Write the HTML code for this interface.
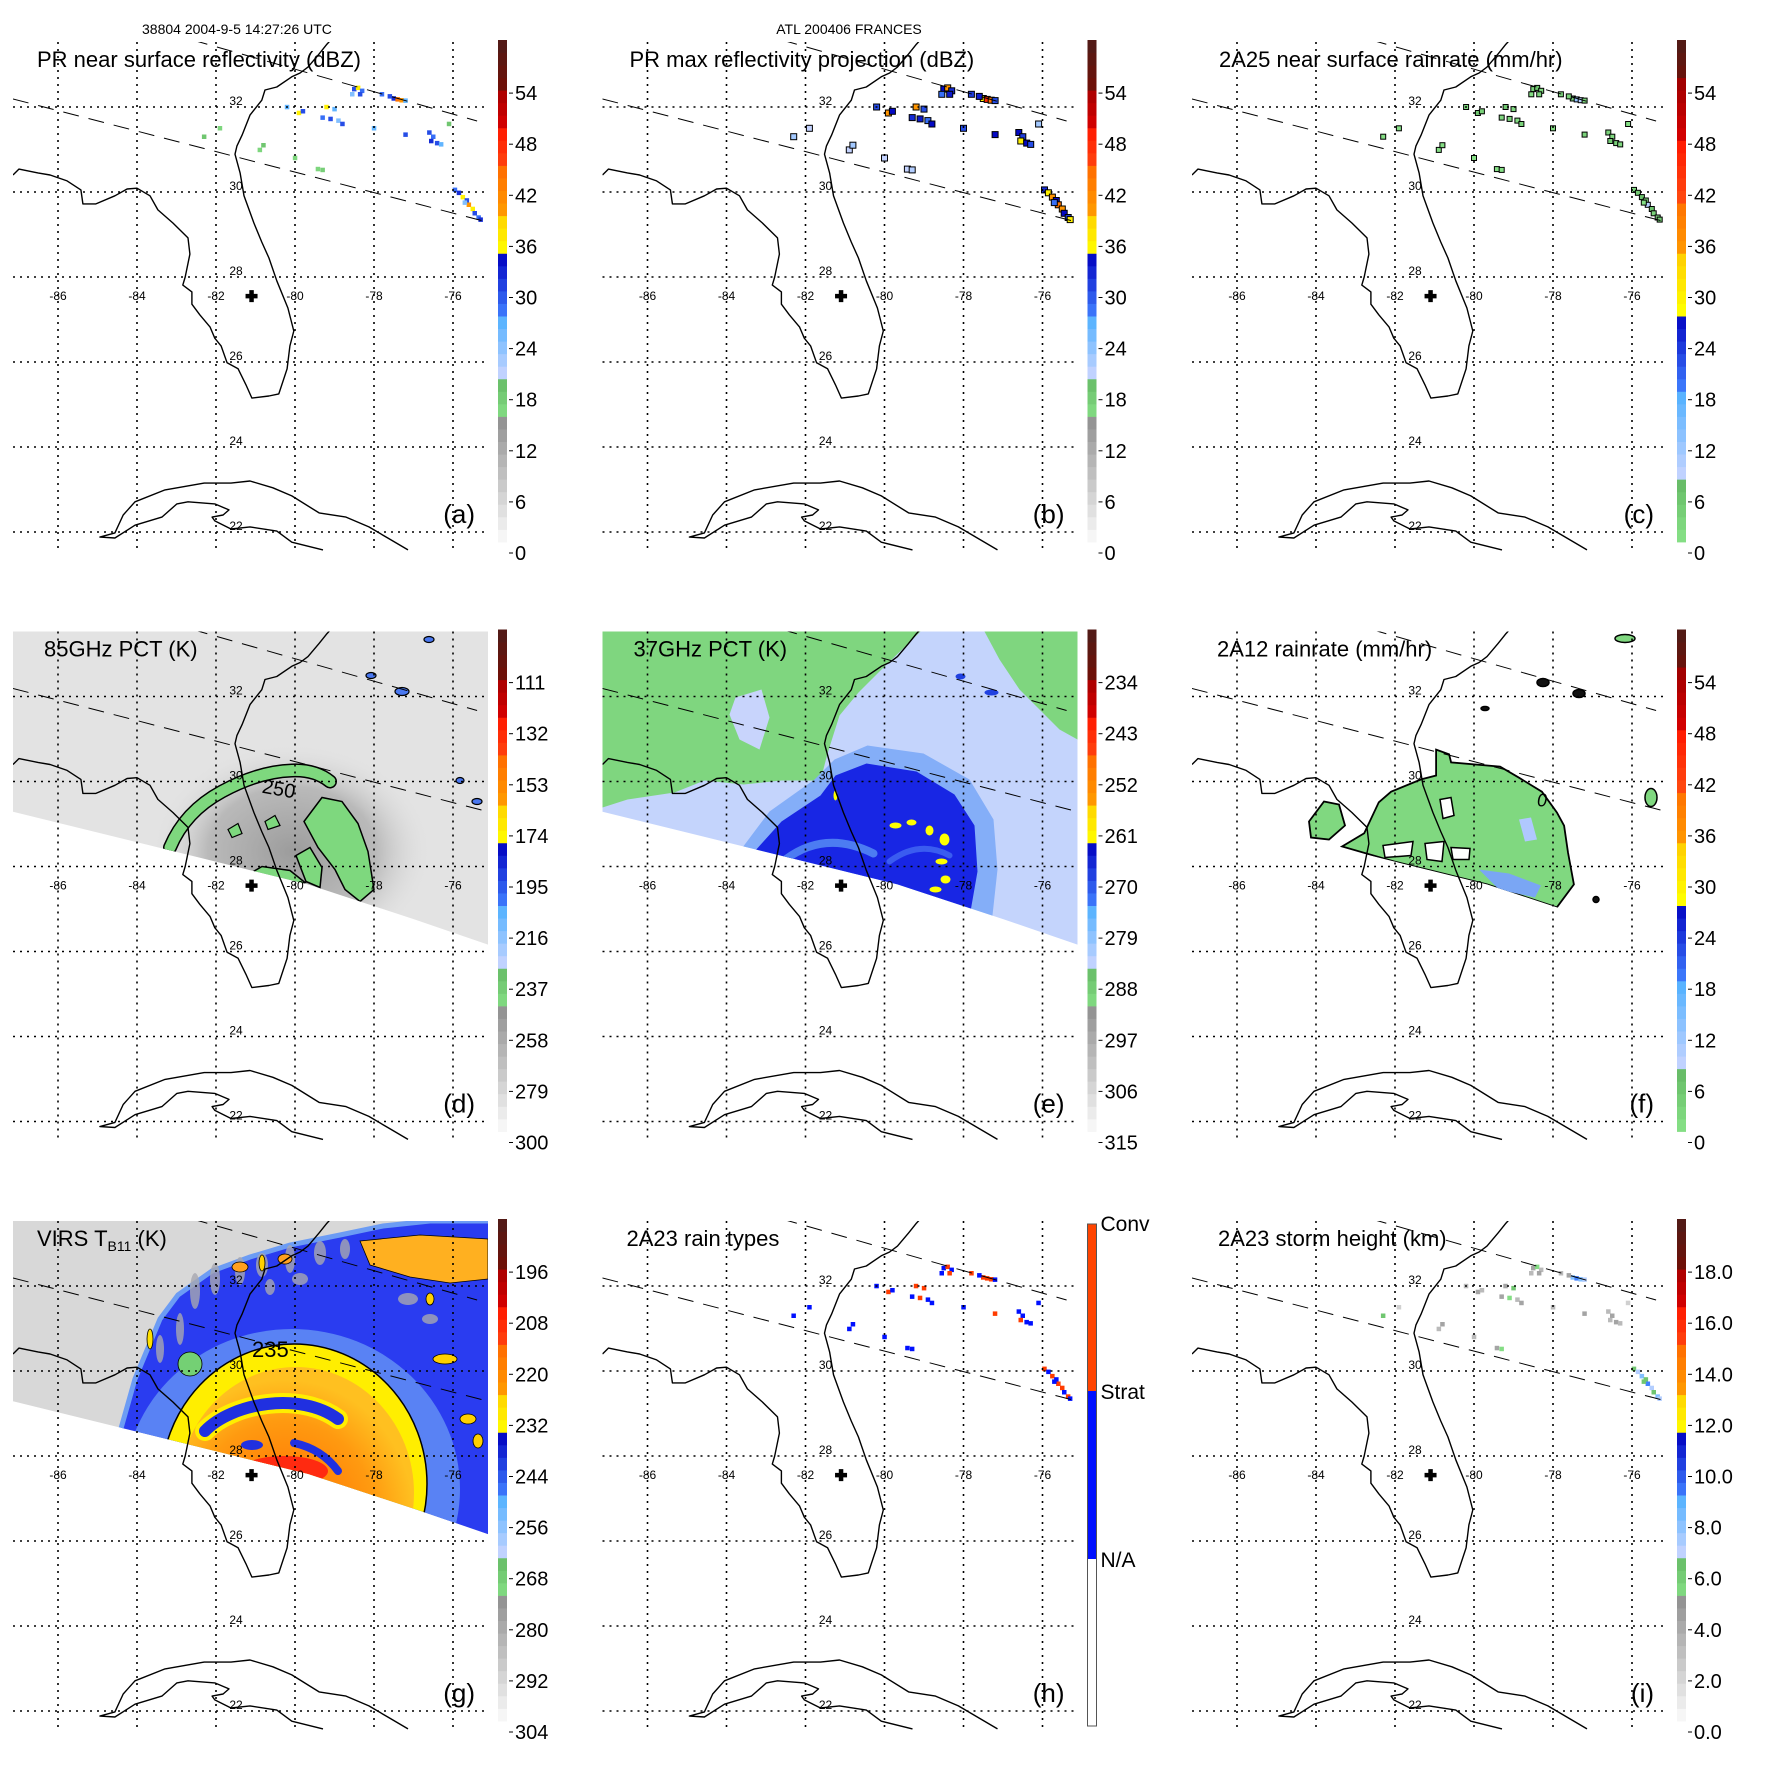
<!DOCTYPE html>
<html><head><meta charset="utf-8">
<style>
html,body{margin:0;padding:0;background:#fff}
svg{display:block}
text{font-family:"Liberation Sans",Arial,sans-serif;fill:#000}
</style></head>
<body>
<svg id="chart" xmlns="http://www.w3.org/2000/svg" width="1771" height="1771" viewBox="0 0 1771 1771">
<rect x="0" y="0" width="1771" height="1771" fill="#ffffff"/>
<defs>
  <clipPath id="mapclip" clipPathUnits="userSpaceOnUse"><rect x="13" y="42" width="475" height="509"/></clipPath>
  <clipPath id="swathclip" clipPathUnits="userSpaceOnUse"><polygon id="swathpoly" points="0,0"/></clipPath>
  <radialGradient id="dhalo" cx="0.5" cy="0.5" r="0.5">
    <stop offset="0" stop-color="#9c9c9c" stop-opacity="1"/>
    <stop offset="0.6" stop-color="#b2b2b2" stop-opacity="0.85"/>
    <stop offset="1" stop-color="#e3e3e3" stop-opacity="0"/>
  </radialGradient>
  <radialGradient id="gcore" cx="0.45" cy="0.6" r="0.55">
    <stop offset="0" stop-color="#ff6a00"/>
    <stop offset="0.7" stop-color="#ff9a10"/>
    <stop offset="1" stop-color="#ffc020"/>
  </radialGradient>
</defs>
<text x="142" y="34" font-size="14">38804 2004-9-5 14:27:26 UTC</text>
<text x="849" y="34" font-size="14" text-anchor="middle">ATL 200406 FRANCES</text>
</svg>
<script>
const NS='http://www.w3.org/2000/svg';
const svg=document.getElementById('chart');

/* ---------- map data (lon/lat) ---------- */
const floridaLon=[-87.14,-86.99,-86.51,-86.20,-85.77,-85.42,-85.37,-85.04,-84.56,-84.25,-84.00,-83.67,-83.47,-83.09,-82.71,-82.66,-82.78,-82.84,-82.61,-82.61,-82.41,-82.15,-82.03,-81.87,-81.72,-81.44,-81.24,-81.09,-80.66,-80.41,-80.20,-80.13,-80.03,-80.18,-80.46,-80.66,-80.84,-81.04,-81.29,-81.39,-81.52,-81.47,-81.34,-81.14,-80.84,-80.76,-80.46,-80.08,-79.87,-79.67,-79.39,-79.19,-79.09];
const floridaLat=[30.40,30.54,30.45,30.40,30.26,30.05,29.72,29.72,29.91,30.07,30.09,29.91,29.58,29.27,28.92,28.54,28.00,27.81,27.65,27.36,27.11,26.82,26.56,26.38,25.98,25.84,25.46,25.15,25.20,25.25,25.84,26.38,26.73,27.27,27.91,28.45,28.82,29.27,29.91,30.45,30.89,31.08,31.34,31.81,32.16,32.40,32.47,32.71,32.80,32.94,33.25,33.48,33.58];
const cubaLon=[-77.14,-77.65,-78.13,-78.71,-79.39,-80.08,-80.56,-81.14,-81.62,-82.30,-83.29,-84.05,-84.35,-84.56,-84.94,-84.56,-84.05,-83.37,-82.99,-82.71,-82.03,-81.67,-81.82,-82.10,-82.03,-81.62,-81.14,-80.46,-80.08,-79.29];
const cubaLat=[21.58,21.86,22.12,22.35,22.45,22.85,23.04,23.20,23.15,23.15,22.99,22.71,22.40,21.98,21.88,21.86,22.16,22.35,22.66,22.71,22.66,22.52,22.40,22.35,22.26,22.07,22.12,22.02,21.76,21.58];
const swathEdgeLon=[-87.6,-87.14,-82.03,-79.67,-76.96,-75.11,-74.8];
const swathEdgeLat=[29.4,29.29,28.12,27.58,26.75,26.16,26.06];
const prLine1Lon=[-87.14,-75.24], prLine1Lat=[32.19,29.32];
const prLine2Lon=[-82.61,-75.39], prLine2Lat=[33.58,31.67];
const gridLons=[-86,-84,-82,-80,-78,-76];
const gridLats=[32,30,28,26,24,22];
const stormLon=-81.1, stormLat=27.55;

/* ---------- PR cells (lon/lat) and per-panel values ---------- */
const cellLon=[-78.5,-78.4,-78.3,-78.55,-78.35,-77.5,-77.4,-77.3,-77.2,-77.6,-77.8,-79.9,-79.8,-80.2,-79.3,-79.1,-78.9,-78.8,-79.0,-79.2,-76.6,-76.5,-76.55,-76.4,-76.3,-75.95,-75.85,-75.75,-75.65,-75.6,-75.5,-75.45,-75.35,-75.3,-75.7,-80.89,-80.8,-79.42,-79.3,-80.0,-81.9,-82.3,-78.0,-77.2,-76.1];
const cellLat=[32.42,32.45,32.38,32.3,32.3,32.2,32.18,32.16,32.15,32.25,32.3,31.86,31.9,32.0,31.75,31.72,31.68,31.6,31.95,32.0,31.4,31.3,31.2,31.15,31.12,30.05,29.98,29.88,29.8,29.7,29.6,29.5,29.4,29.35,29.75,30.99,31.1,30.54,30.52,30.8,31.5,31.3,31.5,31.35,31.6];
const aVal=[30,36,28,24,30,32,44,40,26,30,28,36,30,26,28,30,24,30,26,36,30,28,32,30,26,28,32,36,30,40,36,30,28,32,24,16,18,16,17,16,16,18,26,30,18];
const bVal=[34,40,32,28,33,36,48,44,30,33,31,40,34,30,32,33,28,34,30,40,34,31,36,34,30,32,36,40,34,44,40,34,31,36,28,20,22,20,21,20,20,22,30,34,22];
const cVal=[3,5,2,1,3,4,12,9,2,3,2,5,3,2,2,3,1,3,2,5,3,2,4,3,2,2,4,6,3,9,6,3,2,4,1,0.5,0.8,0.5,0.6,0.5,0.5,0.8,2,3,0.8];
const hType=[1,2,1,1,2,2,2,2,1,1,2,2,1,1,1,2,1,1,2,2,1,1,2,1,1,2,1,2,1,2,2,1,2,1,1,1,1,1,1,1,1,1,1,2,1];
const iVal=[4,5,3,3,4,8,9,8,7,4,3,4,3,3,4,5,3,4,6,4,3,4,3,4,3,6,7,8,6,9,7,6,8,7,6,3,4,4,5,3,2,6,3,4,2];

/* ---------- colorbar tick labels ---------- */
const ticksDbz=['0','6','12','18','24','30','36','42','48','54'];
const ticks85=['300','279','258','237','216','195','174','153','132','111'];
const ticks37=['315','306','297','288','279','270','261','252','243','234'];
const ticksVirs=['304','292','280','268','256','244','232','220','208','196'];
const ticksHt=['0.0','2.0','4.0','6.0','8.0','10.0','12.0','14.0','16.0','18.0'];
const rainTypeLabels=['Conv','Strat','N/A'];

/* ---------- palettes ---------- */
const SEG_A=[[0,0.24,'#fbfbfb','#939393'],[0.24,0.325,'#88e288','#66bb66'],[0.325,0.45,'#ccd6ff','#50b0ff'],[0.45,0.575,'#4080ff','#0000c0'],[0.575,0.66,'#ffff00','#ffcc00'],[0.66,0.74,'#ff9800','#ff7000'],[0.74,0.825,'#ff4a10','#ff1800'],[0.825,0.91,'#d80000','#a00000'],[0.91,1.001,'#6e1008','#4e1c18']];
const SEG_C=[[0,0.12,'#88e288','#66bb66'],[0.12,0.3,'#ccd6ff','#50b0ff'],[0.3,0.457,'#4080ff','#0000c0'],[0.457,0.576,'#ffff00','#ffcc00'],[0.576,0.68,'#ff9800','#ff7000'],[0.68,0.8,'#ff4a10','#ff1800'],[0.8,0.917,'#d80000','#a00000'],[0.917,1.001,'#6e1008','#4e1c18']];
function h2r(h){return [parseInt(h.slice(1,3),16),parseInt(h.slice(3,5),16),parseInt(h.slice(5,7),16)];}
function pal(segs,f){
  f=Math.max(0,Math.min(0.9999,f));
  for(const s of segs){ if(f>=s[0]&&f<s[1]){ const t=(f-s[0])/(s[1]-s[0]); const a=h2r(s[2]),b=h2r(s[3]);
    return 'rgb('+a.map((v,i)=>Math.round(v+(b[i]-v)*t)).join(',')+')'; } }
  return '#000';
}

/* ---------- projection ---------- */
function px(lon){return 58+(lon+86)*39.5;}
function py(lat){return 277-(lat-28)*42.5;}
function pts(lons,lats){return lons.map((l,i)=>px(l).toFixed(1)+','+py(lats[i]).toFixed(1)).join(' ');}

function mk(tag,attrs,parent){const e=document.createElementNS(NS,tag);for(const k in attrs)e.setAttribute(k,attrs[k]);parent.appendChild(e);return e;}

(function(){
  const edge=swathEdgeLon.map((l,i)=>[px(l),py(swathEdgeLat[i])]);
  const p=[[0,30],[500,30]].concat(edge.slice().reverse());
  document.getElementById('swathpoly').setAttribute('points',p.map(q=>q[0].toFixed(1)+','+q[1].toFixed(1)).join(' '));
})();

const CB_TOP=40, CB_BOT=542, CB_X=498, CB_W=9;
const panels=[
 {k:'a',col:0,row:0,title:'PR near surface reflectivity (dBZ)',tx:37,segs:SEG_A,ticks:ticksDbz,vmin:0,vmax:60},
 {k:'b',col:1,row:0,title:'PR max reflectivity projection (dBZ)',tx:40,segs:SEG_A,ticks:ticksDbz,vmin:0,vmax:60},
 {k:'c',col:2,row:0,title:'2A25 near surface rainrate (mm/hr)',tx:40,segs:SEG_C,ticks:ticksDbz,vmin:0,vmax:60},
 {k:'d',col:0,row:1,title:'85GHz PCT (K)',tx:44,segs:SEG_A,ticks:ticks85,vmin:300,vmax:90},
 {k:'e',col:1,row:1,title:'37GHz PCT (K)',tx:44,segs:SEG_A,ticks:ticks37,vmin:315,vmax:225},
 {k:'f',col:2,row:1,title:'2A12 rainrate (mm/hr)',tx:38,segs:SEG_C,ticks:ticksDbz,vmin:0,vmax:60},
 {k:'g',col:0,row:2,title:'VIRS',tx:37,segs:SEG_A,ticks:ticksVirs,vmin:304,vmax:184},
 {k:'h',col:1,row:2,title:'2A23 rain types',tx:37,segs:null,ticks:rainTypeLabels},
 {k:'i',col:2,row:2,title:'2A23 storm height (km)',tx:39,segs:SEG_A,ticks:ticksHt,vmin:0,vmax:20}
];

function drawCells(g,vals,P,size,stroke){
  for(let i=0;i<cellLon.length;i++){
    const x=px(cellLon[i]),y=py(cellLat[i]);
    let col;
    if(P.k==='h'){col=hType[i]===2?'#ff3c00':'#0010ff';}
    else col=pal(P.segs,(vals[i]-P.vmin)/(P.vmax-P.vmin));
    const r=mk('rect',{x:(x-size/2).toFixed(1),y:(y-size/2).toFixed(1),width:size,height:size,fill:col},g);
    if(stroke){r.setAttribute('stroke','#000');r.setAttribute('stroke-width',stroke);}
    
    
  }
}
function poly(g,points,fill,name,extra){
  const e=mk('polygon',{points:points,fill:fill},g);
  if(extra)for(const k in extra)e.setAttribute(k,extra[k]);
  
  
  return e;
}
function pathE(g,d,stroke,w,name,fill){
  const e=mk('path',{d:d,stroke:stroke,'stroke-width':w,fill:fill||'none','stroke-linecap':'round','stroke-linejoin':'round'},g);
  
  
  return e;
}
function ell(g,cx,cy,rx,ry,fill,name,extra){
  const e=mk('ellipse',{cx:cx,cy:cy,rx:rx,ry:ry,fill:fill},g);
  if(extra)for(const k in extra)e.setAttribute(k,extra[k]);
  
  
  return e;
}

function fieldD(g){
  const r=mk('rect',{x:0,y:30,width:500,height:400,fill:'#e3e3e3'},g);
  
  
  ell(g,292,262,140,108,'url(#dhalo)','pct85-storm-halo');
  pathE(g,'M170,258 Q185,222 222,202 T292,181 Q315,180 330,192','#000',14,'pct85-ring-outline');
  pathE(g,'M170,258 Q185,222 222,202 T292,181 Q315,180 330,192','#7ed87e',11,'pct85-ring');
  poly(g,'304,232 322,208 342,212 358,234 368,262 374,300 360,312 345,300 335,280 318,258','#7ed87e','pct85-east-band',{stroke:'#000','stroke-width':1.5});
  poly(g,'250,284 262,277 290,281 305,293 280,301 255,297','#7ed87e','pct85-south-patch',{stroke:'#000','stroke-width':1.5});
  poly(g,'296,266 310,258 322,278 320,298 306,292','#7ed87e','pct85-south-patch-2',{stroke:'#000','stroke-width':1.5});
  poly(g,'265,232 275,226 280,236 268,240','#7ed87e','pct85-small-patch',{stroke:'#000','stroke-width':1.2});
  poly(g,'228,240 238,234 242,244 232,248','#7ed87e','pct85-small-patch-2',{stroke:'#000','stroke-width':1.2});
  const blobs=[[429,50,5,3],[371,86,5,3],[402,102,7,4],[460,191,4,3],[477,212,5,3]];
  blobs.forEach((b,i)=>ell(g,b[0],b[1],b[2],b[3],'#4a78f0','pct85-cold-blob-'+i,{stroke:'#000','stroke-width':1.2}));
  const t=mk('text',{x:262,y:206,'font-size':20,transform:'rotate(10 278 200)'},g);
  t.textContent='250';
  
  
}
function fieldE(g){
  const r=mk('rect',{x:0,y:30,width:500,height:400,fill:'#c4d4fc'},g);
  
  
  poly(g,'13,42 331,42 292,80 269,103 250,126 238,164 231,191 192,191 154,195 115,191 85,203 38,210 13,218','#7fd67f','pct37-land-green');
  poly(g,'146,108 172,100 180,128 170,160 150,150 140,125','#c8d4fc','pct37-land-patch');
  poly(g,'395,42 488,42 488,150 470,140 450,120 430,100 410,70','#7fd67f','pct37-ne-green');
  poly(g,'150,262 180,222 225,190 245,170 278,156 334,164 380,190 404,230 408,280 402,335','#84aef8','pct37-halo');
  poly(g,'165,262 192,232 231,206 246,186 277,174 327,182 365,205 385,236 388,282 381,322','#1826e4','pct37-core');
  pathE(g,'M196,270 Q236,240 284,264','#4c7cf2',8,'pct37-inner-band');
  pathE(g,'M300,272 Q330,250 360,266','#3a5cf0',6,'pct37-inner-band-2');
  const ys=[[306,236,6,3],[322,233,5,3],[340,241,4,5],[355,250,5,6],[352,272,6,3],[356,290,5,4],[346,300,6,3],[246,206,2,5]];
  ys.forEach((b,i)=>ell(g,b[0],b[1],b[2],b[3],'#ffff00','pct37-low-tb-'+i));
  ell(g,371,87,5,3,'#2040e0','pct37-blob-1');
  ell(g,402,103,7,3,'#2040e0','pct37-blob-2');
}
function fieldF(g){
  const fLon=[-80.96,-80.63,-80.58,-79.34,-78.86,-78.28,-77.90,-77.72,-77.62,-77.47,-77.90,-79.67,-82.03,-83.34,-82.78,-82.41,-82.10,-81.34,-80.96];
  const fLat=[30.75,30.64,30.45,30.35,30.09,29.76,29.27,28.96,28.33,27.58,27.04,27.58,28.12,28.47,28.78,29.51,29.76,30.05,30.14];
  poly(g,pts(fLon,fLat),'#80d880','rain-area',{stroke:'#000','stroke-width':1.8});
  poly(g,'130,232 145,212 160,215 166,236 150,250 132,248','#80d880','rain-area-west',{stroke:'#000','stroke-width':1.8});
  poly(g,'261,210 272,208 275,226 264,229','#ffffff','rain-hole-1',{stroke:'#000','stroke-width':1.5});
  poly(g,'204,256 234,252 232,266 206,268','#ffffff','rain-hole-2',{stroke:'#000','stroke-width':1.5});
  poly(g,'246,254 265,252 263,272 248,270','#ffffff','rain-hole-3',{stroke:'#000','stroke-width':1.5});
  poly(g,'272,258 291,259 290,270 274,270','#ffffff','rain-hole-4',{stroke:'#000','stroke-width':1.5});
  poly(g,'300,280 330,284 362,296 356,308 320,300','#7aa6f4','rain-moderate-band');
  poly(g,'340,230 352,228 358,250 346,252','#b0c8ff','rain-light-patch');
  const bl=[[364,93,6,4,'#111'],[400,104,6,4,'#111'],[446,49,10,4,'#80d880'],[472,208,6,9,'#80d880'],[306,119,4,2,'#111'],[417,310,3,3,'#111']];
  bl.forEach((b,i)=>ell(g,b[0],b[1],b[2],b[3],b[4],'rain-blob-'+i,{stroke:'#000','stroke-width':1.5}));
  const t=mk('text',{x:358,y:217,'font-size':18,'font-style':'italic'},g);
  t.textContent='0';
  
  
}
function fieldG(g){
  const r=mk('rect',{x:0,y:30,width:500,height:400,fill:'#d8d8d8'},g);
  
  
  poly(g,'118,260 135,200 160,140 178,116 212,92 250,78 290,66 340,56 383,47 430,42 500,42 500,400 118,400','#2a3cf0','virs-cold-cloud',{stroke:'#6c9cf4','stroke-width':5});
  // streaky upper band: gray and light-blue streaks inside cold cloud
  const gs=[[195,112,5,18],[215,100,5,16],[240,92,5,14],[262,86,6,12],[290,80,5,14],[320,74,6,12],[345,70,5,10],[408,120,10,6],[430,140,8,5],[180,150,4,16],[160,170,4,14],[300,100,8,6],[270,108,5,8]];
  gs.forEach((b,i)=>ell(g,b[0],b[1],b[2],b[3],'#a8a8b0','virs-warm-streak-'+i,{opacity:0.8}));
  ell(g,292,310,168,160,'#6a9af6','virs-outer-band',{opacity:0.75});
  poly(g,'360,62 420,56 488,60 488,100 450,104 410,98 370,86','#ffb020','virs-cold-band-ne',{stroke:'#000','stroke-width':0.8});
  const streaks=[[240,88,8,5,'#ffa020'],[285,80,7,5,'#ffa020'],[262,84,3,8,'#ffd000'],[150,160,3,10,'#ffe000'],[190,185,12,12,'#74d074'],[445,180,12,5,'#ffd000'],[468,240,8,5,'#ffd000'],[478,262,5,7,'#ffd000'],[430,120,4,6,'#ffd000']];
  streaks.forEach((b,i)=>ell(g,b[0],b[1],b[2],b[3],b[4],'virs-streak-'+i,{stroke:'#000','stroke-width':0.8}));
  ell(g,294,305,133,140,'#ffee00','virs-yellow-ring',{stroke:'#000','stroke-width':1.5});
  ell(g,296,314,118,126,'url(#gcore)','virs-orange-core');
  pathE(g,'M205,252 C232,224 300,212 338,240','#ffee00',20,'virs-inner-band-edge');
  pathE(g,'M205,252 C232,224 300,212 338,240','#2030e0',12,'virs-inner-band');
  pathE(g,'M294,264 Q322,270 338,292','#2030e0',8,'virs-inner-band-2');
  ell(g,252,266,11,5,'#2030e0','virs-inner-blob');
  ell(g,284,292,44,15,'#ff2a10','virs-red-center');
  const t=mk('text',{x:252,y:178,'font-size':22},g);
  t.textContent='235';
  
  
}

panels.forEach(P=>{
  const G=mk('g',{transform:'translate('+(P.col*589.5)+','+(P.row*589.5)+')'},svg);
  
  

  const map=mk('g',{'clip-path':'url(#mapclip)'},G);
  
  

  if('defg'.includes(P.k)){
    const sw=mk('g',{'clip-path':'url(#swathclip)'},map);
    
    
    if(P.k==='d')fieldD(sw);
    if(P.k==='e')fieldE(sw);
    if(P.k==='f')fieldF(sw);
    if(P.k==='g')fieldG(sw);
  }
  if('abchi'.includes(P.k)){
    const cg=mk('g',{},map);
    
    
    if(P.k==='a')drawCells(cg,aVal,P,4.5,0);
    if(P.k==='b')drawCells(cg,bVal,P,6,1);
    if(P.k==='c')drawCells(cg,cVal,P,5,1);
    if(P.k==='h')drawCells(cg,hType,P,4.5,0);
    if(P.k==='i')drawCells(cg,iVal,P,4.5,0);
  }

  gridLons.forEach(l=>{
    const ln=mk('line',{x1:px(l),x2:px(l),y1:42,y2:551,stroke:'#000','stroke-width':1.6,'stroke-dasharray':'2,5'},map);
    
    
  });
  gridLats.forEach(l=>{
    const ln=mk('line',{x1:13,x2:488,y1:py(l),y2:py(l),stroke:'#000','stroke-width':1.6,'stroke-dasharray':'2,5'},map);
    
    
  });
  [[prLine1Lon,prLine1Lat],[prLine2Lon,prLine2Lat]].forEach((L,i)=>{
    const ln=mk('line',{x1:px(L[0][0]),y1:py(L[1][0]),x2:px(L[0][1]),y2:py(L[1][1]),stroke:'#000','stroke-width':1,'stroke-dasharray':'16,10'},map);
    
    
  });
  const c1=mk('polyline',{points:pts(floridaLon,floridaLat),fill:'none',stroke:'#000','stroke-width':1.4,'stroke-linejoin':'round'},map);
  
  
  const c2=mk('polyline',{points:pts(cubaLon,cubaLat),fill:'none',stroke:'#000','stroke-width':1.4,'stroke-linejoin':'round'},map);
  
  

  gridLats.forEach(l=>{
    const t=mk('text',{x:236,y:py(l)-2,'font-size':12,'text-anchor':'middle'},G);
    t.textContent=String(l);
    
    
  });
  gridLons.forEach(l=>{
    const t=mk('text',{x:px(l),y:300,'font-size':12,'text-anchor':'middle'},G);
    t.textContent=String(l);
    
    
  });
  const cx=px(stormLon), cy=py(stormLat);
  const cr=mk('path',{d:'M'+(cx-6)+','+cy+'H'+(cx+6)+'M'+cx+','+(cy-6)+'V'+(cy+6),stroke:'#000','stroke-width':4.5,fill:'none'},G);
  
  

  const tt=mk('text',{x:P.tx,y:67,'font-size':22},G);
  
  
  if(P.k==='g'){
    tt.textContent='VIRS T';
    const s=mk('tspan',{'font-size':14,dy:5},tt); s.textContent='B11';
    const s2=mk('tspan',{dy:-5},tt); s2.textContent=' (K)';
  } else tt.textContent=P.title;

  const lt=mk('text',{x:475,y:523,'font-size':26,'text-anchor':'end'},G);
  lt.textContent='('+P.k+')';
  
  

  const cb=mk('g',{},G);
  
  
  if(P.k==='h'){
    const segsH=[[45,212,'#ff4400'],[212,380,'#0010ff'],[380,547,'#ffffff']];
    segsH.forEach((s,i)=>{
      const r=mk('rect',{x:CB_X,y:s[0],width:CB_W,height:s[1]-s[0],fill:s[2]},cb);
      
      
    });
    const bd=mk('rect',{x:CB_X,y:45,width:CB_W,height:502,fill:'none',stroke:'#555','stroke-width':1},cb);
    
    
    const ly=[52,220,388];
    rainTypeLabels.forEach((s,i)=>{
      const t=mk('text',{x:511,y:ly[i],'font-size':21},cb);
      t.textContent=s;
      
      
    });
  } else {
    const n=40, h=(CB_BOT-CB_TOP)/n;
    for(let i=0;i<n;i++){
      const f=(i+0.5)/n;
      const r=mk('rect',{x:CB_X,y:(CB_BOT-(i+1)*h).toFixed(2),width:CB_W,height:(h+0.4).toFixed(2),fill:pal(P.segs,f)},cb);
      
      
    }
    P.ticks.forEach((s,i)=>{
      const y=553-i*51.1;
      const tk=mk('line',{x1:509,x2:513,y1:y,y2:y,stroke:'#000','stroke-width':1},cb);
      
      
      const t=mk('text',{x:515,y:y+7,'font-size':20},cb);
      t.textContent=s;
      
      
    });
  }
});
</script>
</body></html>
